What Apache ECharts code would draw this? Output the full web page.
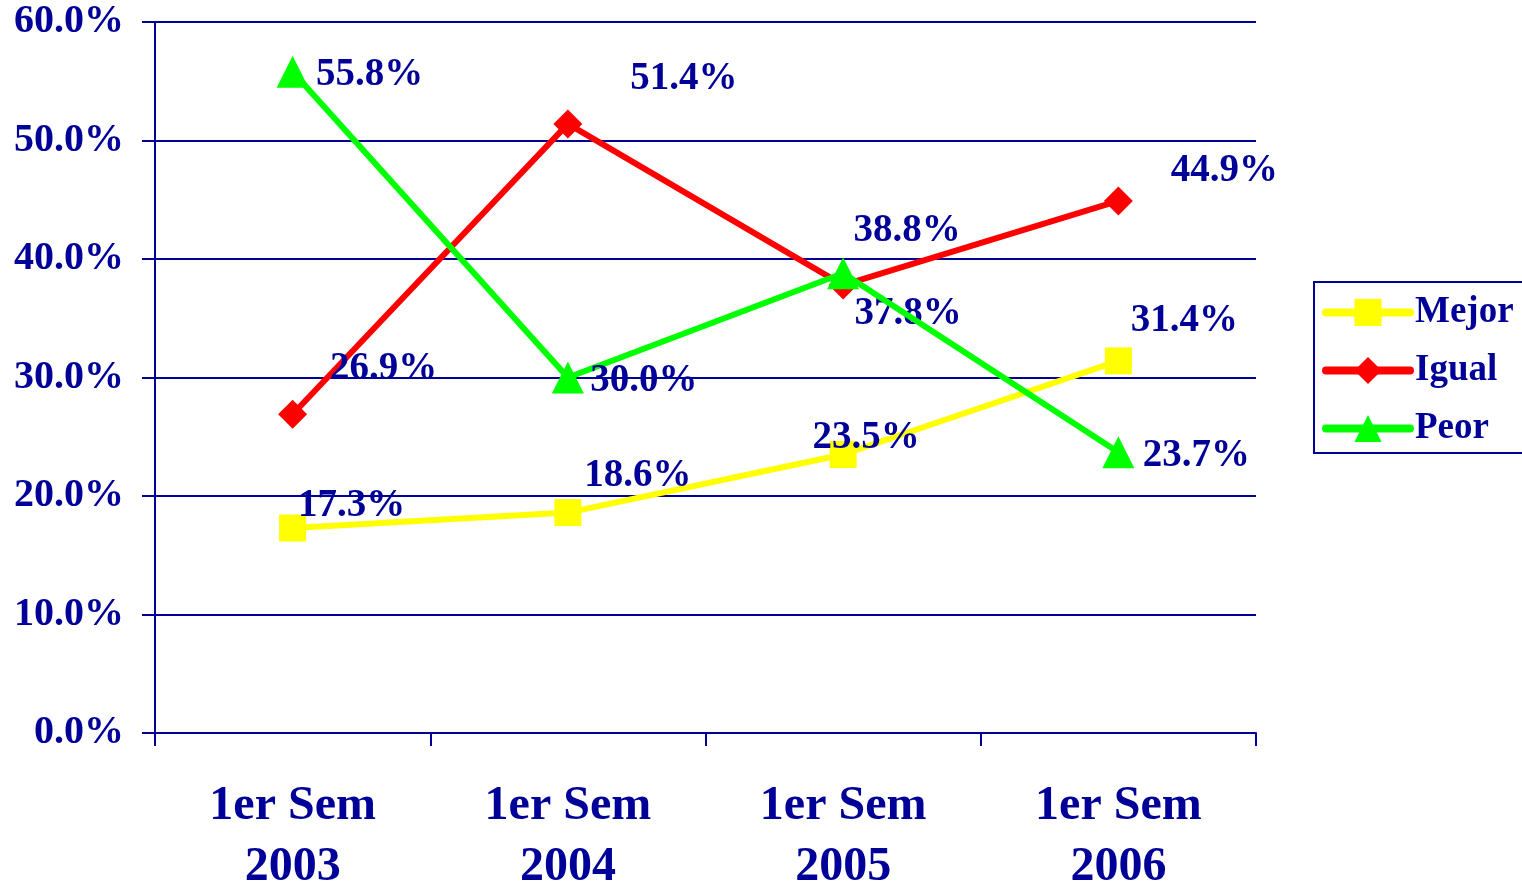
<!DOCTYPE html>
<html>
<head>
<meta charset="utf-8">
<script src="https://cdn.jsdelivr.net/npm/echarts@6/dist/echarts.min.js"></script>
<style>
  html, body { margin: 0; padding: 0; background: #fff; }
  #chart { width: 1522px; height: 887px; }
</style>
</head>
<body>
<div id="chart"></div>
<script>
  // datos
  var categorias = ['1er Sem\n2003', '1er Sem\n2004', '1er Sem\n2005', '1er Sem\n2006']
  var mejor = [17.3, 18.6, 23.5, 31.4]
  var igual = [26.9, 51.4, 37.8, 44.9]
  var peor = [55.8, 30.0, 38.8, 23.7]
  var yTicks = [0, 10, 20, 30, 40, 50, 60]

  // desplazamiento de etiquetas [dx, dy]
  var offMejor = [[59, -22], [70, -37], [23, -17], [66, -40]]
  var offIgual = [[91, -45], [116, -45], [65, 29], [106, -30]]
  var offPeor = [[77, 3], [76, 3], [64, -42], [78, 4]]

  var navy = '#000099'
  var serif = '"Liberation Serif", "Times New Roman", serif'

  function conEtiquetas(vals, offs) {
    return vals.map(function (v, i) {
      return {
        value: v,
        label: { offset: offs[i] }
      }
    })
  }

  function etiqueta() {
    return {
      show: true,
      position: 'inside',
      align: 'center',
      verticalAlign: 'middle',
      color: navy,
      fontFamily: serif,
      fontWeight: 'bold',
      fontSize: 39,
      formatter: function (p) { return p.value.toFixed(1) + '%' }
    }
  }

  var myChart = echarts.init(document.getElementById('chart'))
  myChart.setOption({
    animation: false,
    grid: { left: 155, right: 266, top: 22, bottom: 154, outerBoundsMode: 'none' },
    legend: {
      orient: 'vertical',
      left: 1314,
      top: 282,
      padding: [12, 30, 6, 8],
      itemGap: 21,
      itemWidth: 84,
      itemHeight: 34,
      borderColor: navy,
      borderWidth: 2,
      lineStyle: { width: 8, cap: 'round' },
      textStyle: { color: navy, fontFamily: serif, fontWeight: 'bold', fontSize: 37 },
      data: ['Mejor', 'Igual', 'Peor']
    },
    xAxis: {
      type: 'category',
      data: categorias,
      boundaryGap: true,
      axisLine: { lineStyle: { color: navy, width: 2 } },
      axisTick: { show: true, length: 13, lineStyle: { color: navy, width: 2 } },
      axisLabel: {
        color: navy, fontFamily: serif, fontWeight: 'bold', fontSize: 48,
        lineHeight: 61, margin: 43
      }
    },
    yAxis: {
      type: 'value',
      min: yTicks[0],
      max: yTicks[yTicks.length - 1],
      interval: 10,
      axisLine: { show: true, lineStyle: { color: navy, width: 2 } },
      axisTick: { show: true, length: 13, lineStyle: { color: navy, width: 2 } },
      splitLine: { lineStyle: { color: navy, width: 2 } },
      axisLabel: {
        color: navy, fontFamily: serif, fontWeight: 'bold', fontSize: 40,
        margin: 31,
        formatter: function (v) { return v.toFixed(1) + '%' }
      }
    },
    series: [
      {
        name: 'Mejor',
        type: 'line',
        data: conEtiquetas(mejor, offMejor),
        symbol: 'rect',
        symbolSize: 27,
        itemStyle: { color: '#ffff00' },
        lineStyle: { color: '#ffff00', width: 6 },
        label: etiqueta(),
        z: 2
      },
      {
        name: 'Igual',
        type: 'line',
        data: conEtiquetas(igual, offIgual),
        symbol: 'diamond',
        symbolSize: 29,
        itemStyle: { color: '#ff0000' },
        lineStyle: { color: '#ff0000', width: 6 },
        label: etiqueta(),
        z: 3
      },
      {
        name: 'Peor',
        type: 'line',
        data: conEtiquetas(peor, offPeor),
        symbol: 'triangle',
        symbolSize: 32,
        itemStyle: { color: '#00ff00' },
        lineStyle: { color: '#00ff00', width: 6 },
        label: etiqueta(),
        z: 4
      }
    ]
  })
</script>
</body>
</html>
